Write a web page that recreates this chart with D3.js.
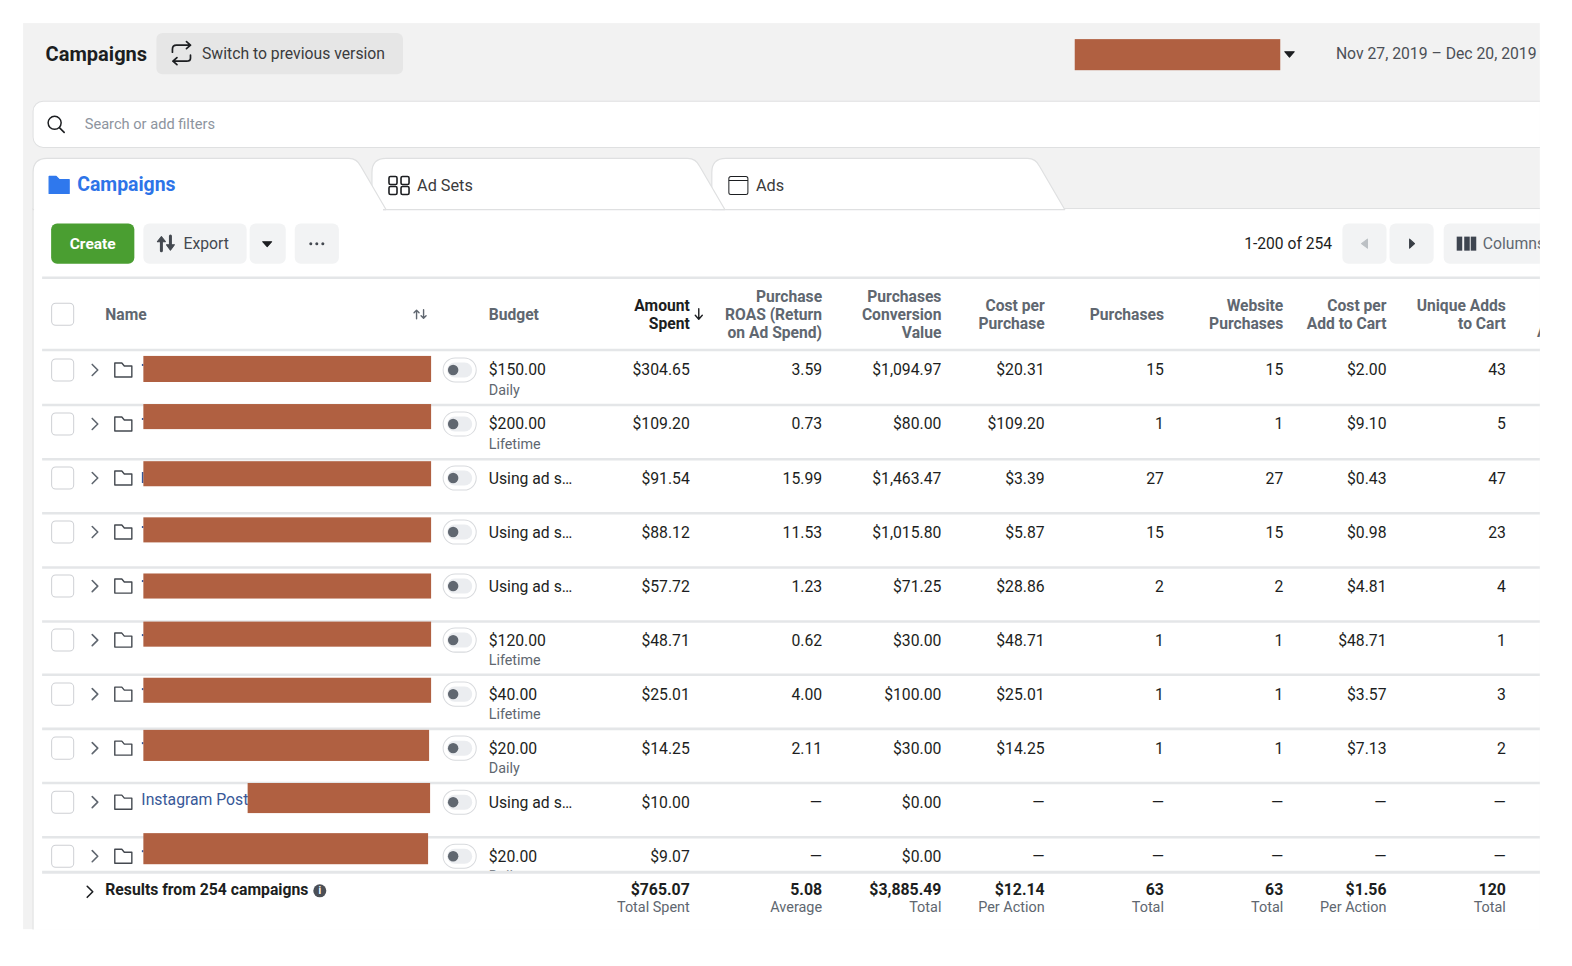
<!DOCTYPE html>
<html><head><meta charset="utf-8">
<script src="https://cdn.jsdelivr.net/npm/d3@7/dist/d3.min.js"></script>
<style>
html,body{margin:0;padding:0;background:#fff;overflow:hidden}
svg{display:block}
text{font-family:Roboto,sans-serif}
</style></head><body><div id="c"></div>
<script>
// ---- data ----
const columnKeys = ["spent","roas","value","cpp","purchases","webPurchases","cpatc","adds"];
const columnHeaders = [["Amount","Spent"],["Purchase","ROAS (Return","on Ad Spend)"],["Purchases","Conversion","Value"],["Cost per","Purchase"],["Purchases"],["Website","Purchases"],["Cost per","Add to Cart"],["Unique Adds","to Cart"]];
const budgets = ["$150.00","$200.00","Using ad s…","Using ad s…","Using ad s…","$120.00","$40.00","$20.00","Using ad s…","$20.00"];
const budgetPeriods = ["Daily","Lifetime","","","","Lifetime","Lifetime","Daily","","Daily"];
const amountSpent = ["$304.65","$109.20","$91.54","$88.12","$57.72","$48.71","$25.01","$14.25","$10.00","$9.07"];
const roas = ["3.59","0.73","15.99","11.53","1.23","0.62","4.00","2.11","—","—"];
const conversionValue = ["$1,094.97","$80.00","$1,463.47","$1,015.80","$71.25","$30.00","$100.00","$30.00","$0.00","$0.00"];
const costPerPurchase = ["$20.31","$109.20","$3.39","$5.87","$28.86","$48.71","$25.01","$14.25","—","—"];
const purchases = ["15","1","27","15","2","1","1","1","—","—"];
const websitePurchases = ["15","1","27","15","2","1","1","1","—","—"];
const costPerAddToCart = ["$2.00","$9.10","$0.43","$0.98","$4.81","$48.71","$3.57","$7.13","—","—"];
const uniqueAdds = ["43","5","47","23","4","1","3","2","—","—"];
const rowColumns = [amountSpent,roas,conversionValue,costPerPurchase,purchases,websitePurchases,costPerAddToCart,uniqueAdds];
const totals = ["$765.07","5.08","$3,885.49","$12.14","63","63","$1.56","120"];
const totalLabels = ["Total Spent","Average","Total","Per Action","Total","Total","Per Action","Total"];

// ---- layout ----
const W=1572,H=966, red="#b06041", txt="#1c1e21", grey="#606770", line="#e4e6e8", panel="#f2f2f2";
const rowLines=[349,404,458,512,566,620,673,727,781,835];
const x=d3.scaleOrdinal().domain(columnKeys).range([688,820,939,1042,1161,1280,1383,1502]);
const y=d3.scaleLinear().domain([0,9]).range([369,854]);
const hide=[[143,355,287,26],[143,403,287,25],[143,460,287,25],[143,516,287,25],[143,572,287,25],[143,620,287,25],[143,676,287,25],[143,728,285,31],[247,781,182,30],[143,831,284,31]];

const svg=d3.select("#c").append("svg").attr("width",W).attr("height",H).attr("viewBox","0 0 1568 963.5");
const T=(g,s,xx,yy,o={})=>g.append("text").attr("x",xx).attr("y",yy).text(s)
  .attr("font-size",o.size||15.7).attr("font-weight",o.weight||400).attr("fill",o.fill||txt)
  .attr("text-anchor",o.anchor||"start").attr("dominant-baseline","central");
const R=(g,a,b,c,d,f,r=0,s=null)=>g.append("rect").attr("x",a).attr("y",b).attr("width",c).attr("height",d).attr("fill",f).attr("rx",r).attr("stroke",s);
const P=(g,d,f="none",s=null,w=1.6)=>g.append("path").attr("d",d).attr("fill",f).attr("stroke",s).attr("stroke-width",w).attr("stroke-linecap","round").attr("stroke-linejoin","round");

// panel
const defs=svg.append("defs");
defs.append("clipPath").attr("id","page").append("rect").attr("x",23).attr("y",23).attr("width",1513).attr("height",904);
defs.append("clipPath").attr("id","rows").append("rect").attr("x",23).attr("y",349).attr("width",1513).attr("height",521);
const root=svg.append("g").attr("clip-path","url(#page)");
R(root,23,23,1513,904,panel);
// top bar
T(root,"Campaigns",45.5,53.5,{size:20,weight:700,fill:"#1c1e21"});
R(root,156,33,246,41,"#e6e6e6",6);
P(root,"M172 52 V49 Q172 45 176 45 H190 M186 41.5 L190 45 L186 48.5 M190 55 V58 Q190 61 186 61 H172.5 M176.5 57.5 L172.5 61 L176.5 64.5","none","#1c1e21",1.7);
T(root,"Switch to previous version",201.5,53.5,{size:15.7,fill:"#3a3b3d"});
R(root,1072,39,205,31,red);
P(root,"M1281.5 51.5 H1291 L1286.2 57 Z","#1c1e21","#1c1e21",1);
T(root,"Nov 27, 2019 – Dec 20, 2019",1332.5,53.5,{size:15.7,fill:"#4b4f56"});

// search
R(root,33,101,1540,46,"#fff",10,"#dfe0e1");
root.append("circle").attr("cx",54.5).attr("cy",122.5).attr("r",6.5).attr("fill","none").attr("stroke","#1c1e21").attr("stroke-width",1.5);
P(root,"M59.5 127.5 L64 132","none","#1c1e21",1.6);
T(root,"Search or add filters",84.5,123.5,{size:14.6,fill:"#8d949e"});

// tabs and table surface
R(root,33,208,1540,730,"#fff",0,"#dfe0e1");
const tab=(l,r)=>`M${l} 209 V172 Q${l} 158 ${l+14} 158 H${r-37} Q${r-29} 158 ${r-25} 166 L${r} 209 Z`;
P(root,tab(710,1062),"#fff","#dfe0e1",1.2);
P(root,tab(371,723),"#fff","#dfe0e1",1.2);
P(root,tab(33,385),"#fff","#dfe0e1",1.2);
R(root,34,205,348,6,"#fff");
P(root,"M49 176 H56 L59 179 H69 V193 H49 Z","#2f78ed","#2f78ed",1.2);
T(root,"Campaigns",77,184,{size:19.4,weight:700,fill:"#2d74e8"});
[[388,176],[400,176],[388,186],[400,186]].forEach(p=>root.append("rect").attr("x",p[0]).attr("y",p[1]).attr("width",8).attr("height",8).attr("rx",1.5).attr("fill","none").attr("stroke","#1c1e21").attr("stroke-width",1.6));
T(root,"Ad Sets",416,185,{size:16.2,fill:"#3a3b3d"});
R(root,727,176,19,18,"#fff",2,"#1c1e21");
root.append("line").attr("x1",727).attr("x2",746).attr("y1",180).attr("y2",180).attr("stroke","#1c1e21");
T(root,"Ads",754,185,{size:16.2,fill:"#3a3b3d"});

// toolbar
R(root,51,223,83,40,"#4a9e31",6);
T(root,"Create",92.5,243,{size:15.5,weight:700,fill:"#fff",anchor:"middle"});
R(root,143,223,103,40,"#f2f3f4",6);
R(root,249,223,36,40,"#f2f3f4",6);
R(root,294,223,44,40,"#f2f3f4",6);
P(root,"M161 250 V240","none","#444950",3);
P(root,"M157 241 L161 236 L165 241 Z","#444950","#444950",1);
P(root,"M170 235.5 V245","none","#444950",3);
P(root,"M166 244 L170 249.5 L174 244 Z","#444950","#444950",1);
T(root,"Export",183,243,{size:15.7,fill:"#444950"});
P(root,"M262 241 H271 L266.5 246 Z","#1c1e21","#1c1e21",1);
[-6,0,6].forEach(d=>root.append("circle").attr("cx",316+d).attr("cy",243).attr("r",1.5).attr("fill","#444950"));
T(root,"1-200 of 254",1241,243,{size:15.6,fill:"#1c1e21"});
R(root,1339,223,44,40,"#f2f3f4",6);
R(root,1386,223,44,40,"#f2f3f4",6);
P(root,"M1364 238.5 V247.5 L1358 243 Z","#bcc0c4","#bcc0c4",1);
P(root,"M1406 238.5 V247.5 L1411 243 Z","#3a3f46","#3a3f46",1);
R(root,1440,223,110,40,"#f2f3f4",6);
[1453,1460.5,1467].forEach(a=>R(root,a,236,5.5,14,"#3e4550"));
T(root,"Columns",1479,243,{size:15.7,fill:"#606770"});

// header
const hl=(yy,w=2.5)=>root.append("line").attr("x1",42).attr("x2",1572).attr("y1",yy).attr("y2",yy).attr("stroke",line).attr("stroke-width",w);
hl(277);hl(349);
const box=(g,yy)=>R(g,51.5,yy-11,22,22,"#fff",4,"#ced0d4");
box(root,313.5);
T(root,"Name",105,313.5,{size:15.6,weight:700,fill:grey});
P(root,"M415.5 318 V310 M413 312 L415.5 309.5 L418 312","none",grey,1.4);
P(root,"M422.5 309 V317 M420 315 L422.5 317.5 L425 315","none",grey,1.4);
T(root,"Budget",487.5,313.5,{size:15.6,weight:700,fill:grey});
const hg=root.append("g");
columnKeys.forEach((k,i)=>{
  const ls=columnHeaders[i], top=313.5-(ls.length-1)*9;
  ls.forEach((s,j)=>T(hg,s,x(k),top+j*18,{size:15.6,weight:700,fill:i===0?txt:grey,anchor:"end"}));
});
P(root,"M697 308 V318 M693.5 314.5 L697 318.5 L700.5 314.5","none",txt,1.4);
T(root,"A",1533,331,{size:15.6,weight:700,fill:grey});

// rows
const rows=root.append("g").attr("clip-path","url(#rows)");
rows.selectAll("line.r").data(rowLines.slice(1)).join("line").attr("class","r").attr("x1",42).attr("x2",1572).attr("y1",d=>d).attr("y2",d=>d).attr("stroke",line).attr("stroke-width",2.5);
budgets.forEach((b,i)=>{
  const c=y(i), g=rows.append("g");
  box(g,c);
  P(g,`M92 ${c-5.5} L97.5 ${c} L92 ${c+5.5}`,"none",grey,1.6);
  P(g,`M114.5 ${c+7} V${c-7} H121.5 L124 ${c-4} H131.5 V${c+7} Z`,"none","#444950",1.4);
  R(g,442,c-12,33,24,"#fff",12,"#d8dadd");
  R(g,446,c-7.5,25,15,"#ebedf0",7.5);
  g.append("circle").attr("cx",452).attr("cy",c).attr("r",5.2).attr("fill",grey);
  T(g,b,487.5,c,{});
  if(budgetPeriods[i]) T(g,budgetPeriods[i],487.5,c+19.5,{size:14.3,fill:grey});
  columnKeys.forEach((k,j)=>T(g,rowColumns[j][i],x(k),c,{anchor:"end"}));
  if(i!==8) R(g,141.5,c-6,1.6,i===2?11:2,"#385898");
});
T(rows,"Instagram Post",141,797.5,{fill:"#385898"});
rows.selectAll("rect.h").data(hide).join("rect").attr("class","h").attr("x",d=>d[0]).attr("y",d=>d[1]).attr("width",d=>d[2]).attr("height",d=>d[3]).attr("fill",red);

// footer
hl(870,3);
P(root,"M87 884 L92.5 889.5 L87 895","none","#1c1e21",1.6);
T(root,"Results from 254 campaigns",105,887.5,{size:15.7,weight:700});
root.append("circle").attr("cx",319).attr("cy",888.5).attr("r",6.5).attr("fill","#4b4f56");
T(root,"i",319,888.5,{size:10,weight:700,fill:"#fff",anchor:"middle"});
columnKeys.forEach((k,j)=>{
  T(root,totals[j],x(k),887.5,{size:15.8,weight:700,anchor:"end"});
  T(root,totalLabels[j],x(k),905,{size:14.4,fill:grey,anchor:"end"});
});
</script></body></html>
